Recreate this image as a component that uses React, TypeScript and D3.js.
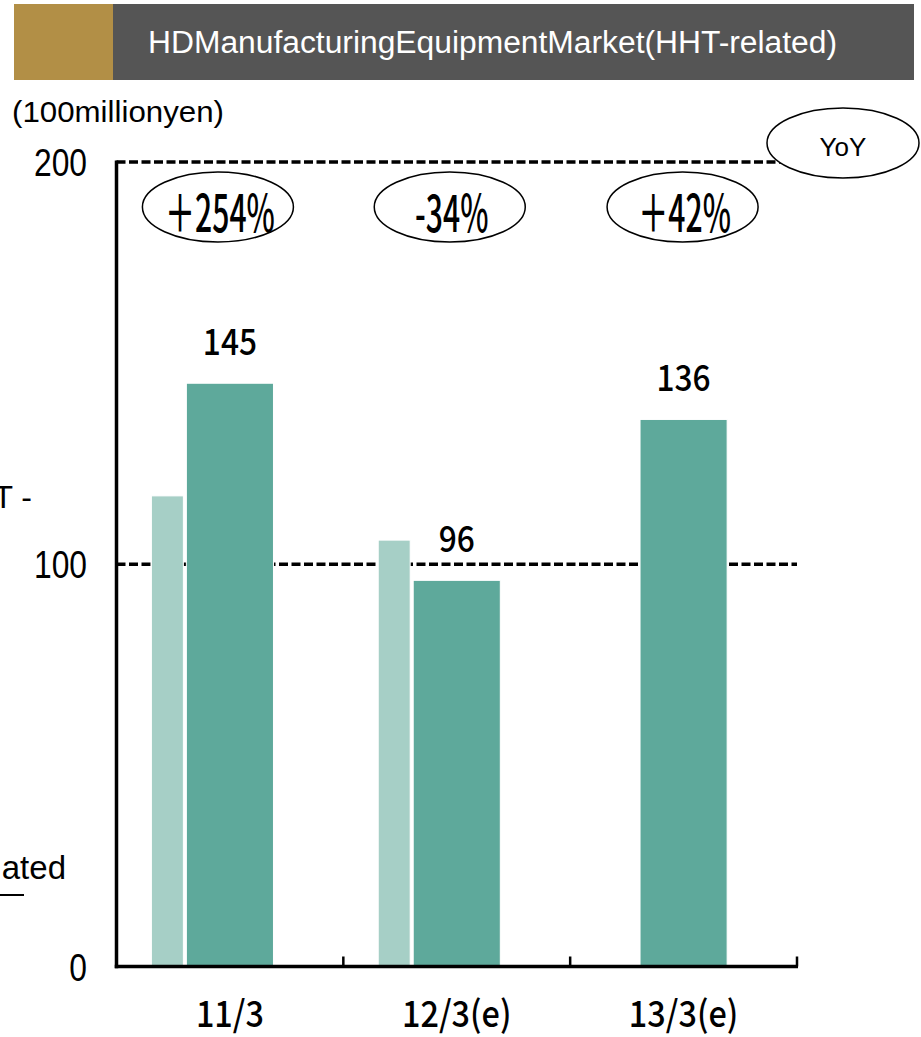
import React from "react";
import * as d3 from "d3";

// Fiscal-year categories and market values (100 million yen)
const categories = ["11/3", "12/3(e)", "13/3(e)"];
const currentValues = [145, 96, 136];
const previousValues: (number | null)[] = [117, 106, null];
const yoyLabels = ["＋254%", "-34%", "＋42%"];
const yTicks = [0, 100, 200];
const refLines = [100, 200];

const W = 921;
const H = 1037;
const plot = { left: 116.5, right: 797, top: 162, bottom: 966.5 };

const DARK = "#5ea99b";
const LIGHT = "#a6cfc6";
const GOLD = "#b28f46";
const GREY = "#555555";

const SANS = "'Liberation Sans', Arial, sans-serif";
const GOTHIC = "'Noto Sans CJK JP', sans-serif";

// Horizontally condensed text helper
function CText(props: {
  x: number;
  y: number;
  sx?: number;
  anchor?: "start" | "middle" | "end";
  size: number;
  family: string;
  weight?: number;
  fill?: string;
  children: React.ReactNode;
}) {
  const { x, y, sx = 1, anchor = "middle", size, family, weight = 400, fill = "#000", children } = props;
  return (
    <text
      transform={`translate(${x},${y}) scale(${sx},1)`}
      textAnchor={anchor}
      fontSize={size}
      fontFamily={family}
      fontWeight={weight}
      fill={fill}
    >
      {children}
    </text>
  );
}

export default function App() {
  const x = d3.scaleBand<string>().domain(categories).range([plot.left, plot.right]);
  const y = d3.scaleLinear().domain([0, 200]).range([plot.bottom, plot.top]);
  const bw = x.bandwidth();
  const darkW = bw * 0.384;
  const lightW = bw * 0.141;
  const gap = 3;

  const yoyNudge = [-12, -7, -1];
  const yoyCy = plot.top + 45;

  return (
    <svg
      width={W}
      height={H}
      viewBox={`0 0 ${W} ${H}`}
      style={{ position: "absolute", left: 0, top: 0, background: "#fff" }}
    >
      {/* header band */}
      <rect x={14} y={4} width={99} height={76} fill={GOLD} />
      <rect x={113} y={4} width={801} height={76} fill={GREY} />
      <text
        x={148}
        y={53}
        fontSize={31}
        fontFamily={SANS}
        fill="#fff"
        textLength={689}
        lengthAdjust="spacingAndGlyphs"
      >
        HDManufacturingEquipmentMarket(HHT-related)
      </text>

      {/* unit label */}
      <text x={12} y={122} fontSize={30} fontFamily={SANS} textLength={212} lengthAdjust="spacingAndGlyphs">
        (100millionyen)
      </text>

      {/* legend remnants at the left edge */}
      <text x={32} y={508} fontSize={32} fontFamily={SANS} textAnchor="end">
        T -
      </text>
      <text x={66} y={879} fontSize={33} fontFamily={SANS} textAnchor="end">
        ated
      </text>
      <line x1={0} x2={24} y1={895} y2={895} stroke="#000" strokeWidth={2} />

      {/* dashed reference lines */}
      {refLines.map((v) => (
        <line
          key={v}
          x1={plot.left}
          x2={plot.right}
          y1={y(v)}
          y2={y(v)}
          stroke="#000"
          strokeWidth={3.5}
          strokeDasharray="9 3.5"
        />
      ))}

      {/* previous-plan bars */}
      {categories.map((c, i) => {
        const v = previousValues[i];
        if (v == null) return null;
        const cx = (x(c) as number) + bw / 2;
        const right = cx - darkW / 2 - gap;
        return (
          <rect
            key={"p" + c}
            x={right - lightW}
            y={y(v)}
            width={lightW}
            height={y(0) - y(v)}
            fill={LIGHT}
            stroke="#fff"
            strokeWidth={1}
          />
        );
      })}

      {/* current bars */}
      {categories.map((c, i) => {
        const v = currentValues[i];
        const cx = (x(c) as number) + bw / 2;
        return (
          <rect
            key={"c" + c}
            x={cx - darkW / 2}
            y={y(v)}
            width={darkW}
            height={y(0) - y(v)}
            fill={DARK}
            stroke="#fff"
            strokeWidth={1}
          />
        );
      })}

      {/* value labels */}
      {categories.map((c, i) => {
        const v = currentValues[i];
        const cx = (x(c) as number) + bw / 2;
        return (
          <CText key={"v" + c} x={cx} y={y(v) - 28} sx={0.88} size={36} family={GOTHIC} weight={500}>
            {String(v)}
          </CText>
        );
      })}

      {/* axes */}
      <line x1={plot.left} x2={plot.left} y1={plot.top - 1.5} y2={plot.bottom + 1.75} stroke="#000" strokeWidth={3.5} />
      <line x1={plot.left - 1.75} x2={plot.right + 1} y1={plot.bottom} y2={plot.bottom} stroke="#000" strokeWidth={3.5} />
      {categories.map((c) => {
        const tx = (x(c) as number) + bw;
        return (
          <line key={"t" + c} x1={tx} x2={tx} y1={plot.bottom} y2={plot.bottom - 10} stroke="#000" strokeWidth={2.5} />
        );
      })}

      {/* y tick labels */}
      {yTicks.map((t) => (
        <CText key={"y" + t} x={87} y={y(t) + 14} sx={0.815} anchor="end" size={39} family={SANS}>
          {String(t)}
        </CText>
      ))}

      {/* x category labels */}
      {categories.map((c) => (
        <CText key={"x" + c} x={(x(c) as number) + bw / 2} y={1027} sx={0.9} size={36} family={GOTHIC} weight={500}>
          {c}
        </CText>
      ))}

      {/* YoY badges */}
      {categories.map((c, i) => {
        const cx = (x(c) as number) + bw / 2 + yoyNudge[i];
        return (
          <g key={"yoy" + c}>
            <ellipse cx={cx} cy={yoyCy} rx={75.5} ry={35} fill="#fff" stroke="#000" strokeWidth={1.5} />
            <CText x={cx + 2} y={yoyCy + 25} sx={0.59} size={51} family={GOTHIC} weight={500}>
              {yoyLabels[i]}
            </CText>
          </g>
        );
      })}

      {/* YoY legend badge */}
      <ellipse cx={plot.right + 46} cy={plot.top - 19} rx={76} ry={35} fill="#fff" stroke="#000" strokeWidth={1.5} />
      <text x={plot.right + 46} y={plot.top - 6} fontSize={26} fontFamily={SANS} textAnchor="middle">
        YoY
      </text>
    </svg>
  );
}
